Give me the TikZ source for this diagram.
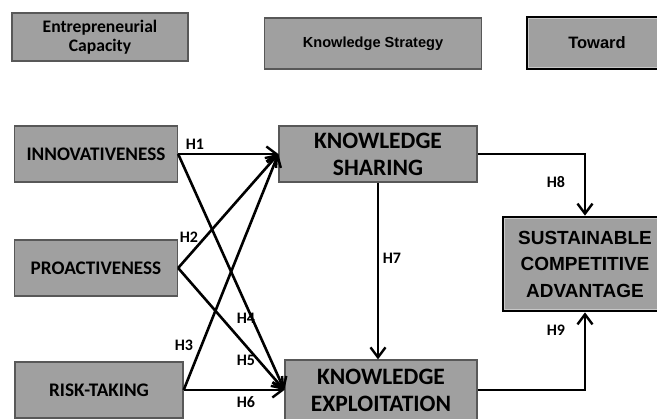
\documentclass[tikz,border=0pt]{standalone}
\usepackage{fontspec}
\setmainfont{Carlito}
\newfontfamily\arialf{Liberation Sans}
\usetikzlibrary{arrows.meta}
\definecolor{boxgray}{HTML}{A0A0A0}
\definecolor{edgegray}{HTML}{585858}
\definecolor{bevel}{HTML}{C8C8C8}
\begin{document}
\begin{tikzpicture}[x=1pt,y=-1pt,
  box/.style={draw=edgegray, line width=1.3pt, fill=boxgray, inner sep=0pt, align=center},
  arr/.style={line width=2.6pt, -{Straight Barb[length=10pt,width=15pt,line width=2.4pt]}},
  bevelline/.style={draw=bevel, line width=1.2pt},
  lab/.style={font=\bfseries\fontsize{16}{16}\selectfont, inner sep=0pt}]
\useasboundingbox (0,0) rectangle (657,419);
\clip (0,0) rectangle (657,419);
% header boxes
\node[box, minimum width=176pt, minimum height=48pt, font=\bfseries\fontsize{17.6}{19}\selectfont] (ec) at (100,37) {Entrepreneurial\\Capacity};
\node[box, minimum width=217pt, minimum height=51pt, font=\arialf\bfseries\fontsize{14.6}{16}\selectfont] (kstr) at (373,43.5) {Knowledge Strategy};
\node[box, draw=black, line width=2.6pt, minimum width=140pt, minimum height=52pt, font=\arialf\bfseries\fontsize{16.5}{18}\selectfont] (tow) at (597,43) {Toward};
\draw[bevelline] ([shift={(2.8,2.8)}]tow.north west) rectangle ([shift={(-2.8,-2.8)}]tow.south east);
% main boxes
\node[box, minimum width=163pt, minimum height=56pt, font=\bfseries\fontsize{19.2}{22}\selectfont] (inn) at (96,154) {INNOVATIVENESS};
\node[box, minimum width=163pt, minimum height=56pt, font=\bfseries\fontsize{19.2}{22}\selectfont] (pro) at (96,268) {PROACTIVENESS};
\node[box, minimum width=168pt, minimum height=56pt, font=\bfseries\fontsize{19.2}{22}\selectfont] (risk) at (99,390) {RISK-TAKING};
\node[box, minimum width=198pt, minimum height=56pt, font=\bfseries\fontsize{23.5}{27}\selectfont] (ks) at (378,154) {KNOWLEDGE\\SHARING};
\node[box, minimum width=192pt, minimum height=60pt, font=\bfseries\fontsize{23.5}{27}\selectfont] (ke) at (381,390) {KNOWLEDGE\\EXPLOITATION};
\node[box, draw=black, line width=2.8pt, minimum width=164pt, minimum height=94pt, font=\arialf\bfseries\fontsize{19}{26.5}\selectfont] (sca) at (585,264) {SUSTAINABLE\\COMPETITIVE\\ADVANTAGE};
\draw[bevelline] ([shift={(3,3)}]sca.north west) rectangle ([shift={(-3,-3)}]sca.south east);
% connectors
\draw[arr] (inn.east) -- (ks.west);
\draw[arr] (pro.east) -- (ks.west);
\draw[arr] (risk.east) -- (ks.west);
\draw[arr] (inn.east) -- (ke.west);
\draw[arr] (pro.east) -- (ke.west);
\draw[arr] (risk.east) -- (ke.west);
\draw[arr] (ks.south) -- (ks.south |- ke.north);
\draw[arr] (ks.east) -| (sca.north);
\draw[arr] (ke.east) -| (sca.south);
% labels
\node[lab] (h1) at (195,144) {H1};
\node[lab] (h2) at (189,237) {H2};
\node[lab] (h3) at (184,345) {H3};
\node[lab] (h4) at (246,318) {H4};
\node[lab] (h5) at (246,360) {H5};
\node[lab] (h6) at (246,402) {H6};
\node[lab] (h7) at (392,258) {H7};
\node[lab] (h8) at (556,182) {H8};
\node[lab] (h9) at (556,330) {H9};
\end{tikzpicture}
\end{document}
